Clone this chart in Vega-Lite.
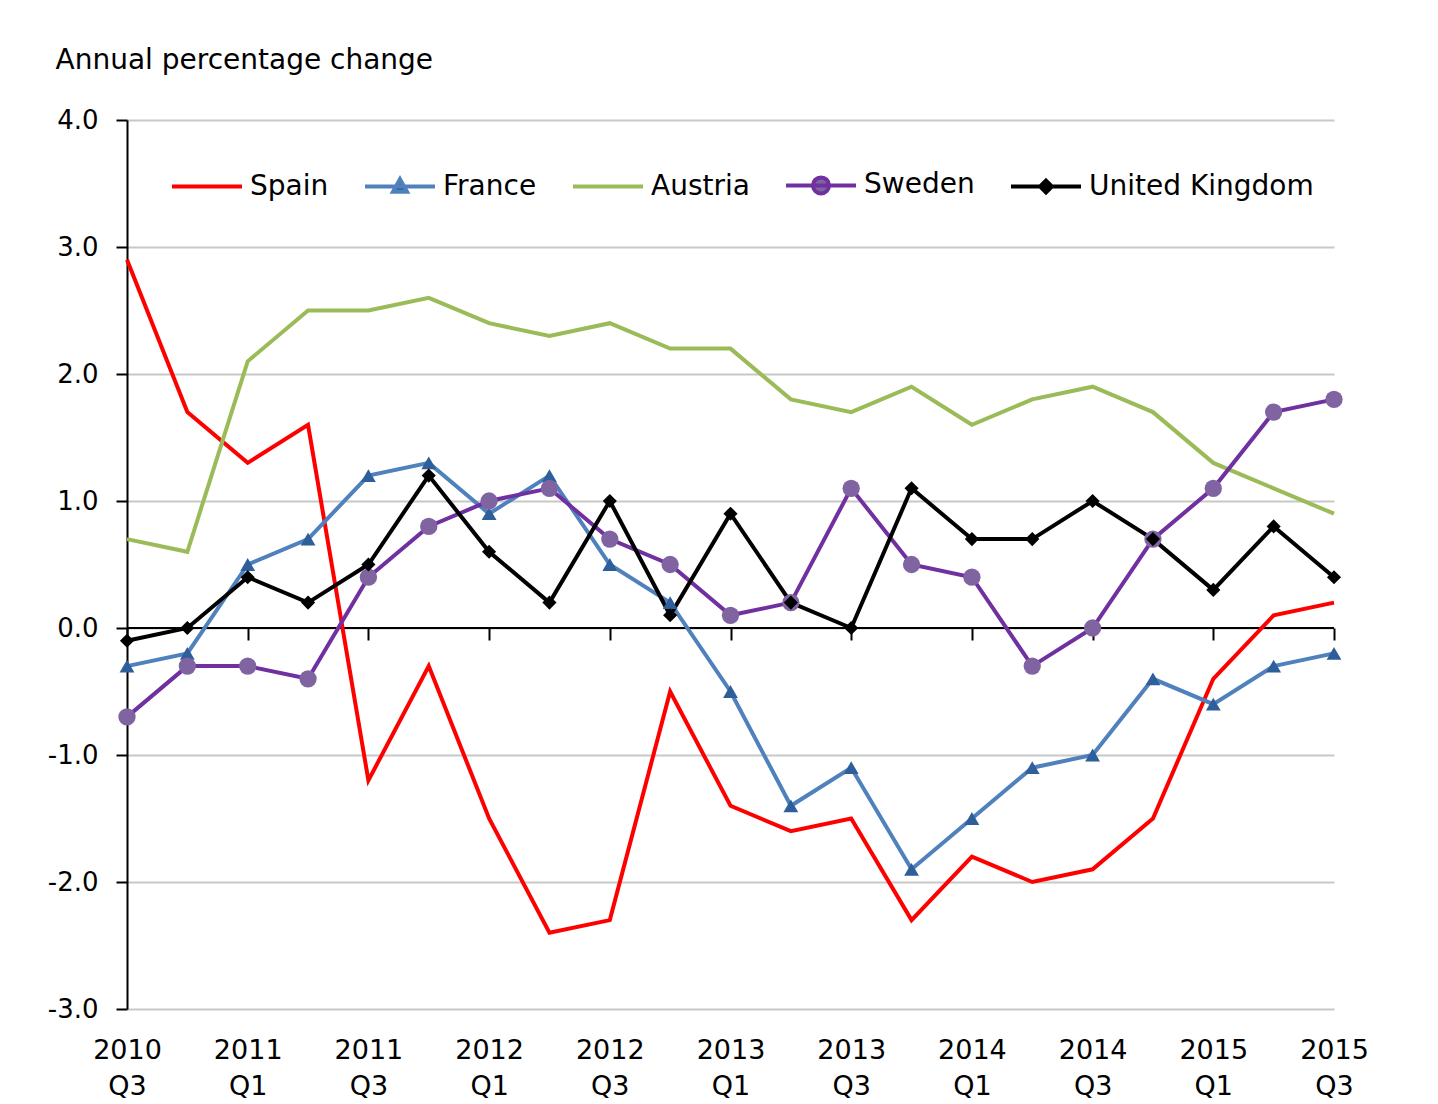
{
  "$schema": "https://vega.github.io/schema/vega-lite/v6.json",
  "width": 1207,
  "height": 889,
  "autosize": {"type": "none"},
  "padding": {"left": 127, "top": 120, "right": 104, "bottom": 95},
  "background": "#ffffff",
  "config": {
    "font": "DejaVu Sans",
    "view": {"stroke": null},
    "axis": {"labelColor": "#000000", "titleColor": "#000000", "labelFont": "DejaVu Sans", "titleFont": "DejaVu Sans"},
    "legend": {"labelFont": "DejaVu Sans", "labelColor": "#000000"}
  },
  "data": {
    "values": [
      {"quarter": "2010 Q3", "country": "Spain", "value": 2.9},
      {"quarter": "2010 Q4", "country": "Spain", "value": 1.7},
      {"quarter": "2011 Q1", "country": "Spain", "value": 1.3},
      {"quarter": "2011 Q2", "country": "Spain", "value": 1.6},
      {"quarter": "2011 Q3", "country": "Spain", "value": -1.2},
      {"quarter": "2011 Q4", "country": "Spain", "value": -0.3},
      {"quarter": "2012 Q1", "country": "Spain", "value": -1.5},
      {"quarter": "2012 Q2", "country": "Spain", "value": -2.4},
      {"quarter": "2012 Q3", "country": "Spain", "value": -2.3},
      {"quarter": "2012 Q4", "country": "Spain", "value": -0.5},
      {"quarter": "2013 Q1", "country": "Spain", "value": -1.4},
      {"quarter": "2013 Q2", "country": "Spain", "value": -1.6},
      {"quarter": "2013 Q3", "country": "Spain", "value": -1.5},
      {"quarter": "2013 Q4", "country": "Spain", "value": -2.3},
      {"quarter": "2014 Q1", "country": "Spain", "value": -1.8},
      {"quarter": "2014 Q2", "country": "Spain", "value": -2.0},
      {"quarter": "2014 Q3", "country": "Spain", "value": -1.9},
      {"quarter": "2014 Q4", "country": "Spain", "value": -1.5},
      {"quarter": "2015 Q1", "country": "Spain", "value": -0.4},
      {"quarter": "2015 Q2", "country": "Spain", "value": 0.1},
      {"quarter": "2015 Q3", "country": "Spain", "value": 0.2},
      {"quarter": "2010 Q3", "country": "France", "value": -0.3},
      {"quarter": "2010 Q4", "country": "France", "value": -0.2},
      {"quarter": "2011 Q1", "country": "France", "value": 0.5},
      {"quarter": "2011 Q2", "country": "France", "value": 0.7},
      {"quarter": "2011 Q3", "country": "France", "value": 1.2},
      {"quarter": "2011 Q4", "country": "France", "value": 1.3},
      {"quarter": "2012 Q1", "country": "France", "value": 0.9},
      {"quarter": "2012 Q2", "country": "France", "value": 1.2},
      {"quarter": "2012 Q3", "country": "France", "value": 0.5},
      {"quarter": "2012 Q4", "country": "France", "value": 0.2},
      {"quarter": "2013 Q1", "country": "France", "value": -0.5},
      {"quarter": "2013 Q2", "country": "France", "value": -1.4},
      {"quarter": "2013 Q3", "country": "France", "value": -1.1},
      {"quarter": "2013 Q4", "country": "France", "value": -1.9},
      {"quarter": "2014 Q1", "country": "France", "value": -1.5},
      {"quarter": "2014 Q2", "country": "France", "value": -1.1},
      {"quarter": "2014 Q3", "country": "France", "value": -1.0},
      {"quarter": "2014 Q4", "country": "France", "value": -0.4},
      {"quarter": "2015 Q1", "country": "France", "value": -0.6},
      {"quarter": "2015 Q2", "country": "France", "value": -0.3},
      {"quarter": "2015 Q3", "country": "France", "value": -0.2},
      {"quarter": "2010 Q3", "country": "Austria", "value": 0.7},
      {"quarter": "2010 Q4", "country": "Austria", "value": 0.6},
      {"quarter": "2011 Q1", "country": "Austria", "value": 2.1},
      {"quarter": "2011 Q2", "country": "Austria", "value": 2.5},
      {"quarter": "2011 Q3", "country": "Austria", "value": 2.5},
      {"quarter": "2011 Q4", "country": "Austria", "value": 2.6},
      {"quarter": "2012 Q1", "country": "Austria", "value": 2.4},
      {"quarter": "2012 Q2", "country": "Austria", "value": 2.3},
      {"quarter": "2012 Q3", "country": "Austria", "value": 2.4},
      {"quarter": "2012 Q4", "country": "Austria", "value": 2.2},
      {"quarter": "2013 Q1", "country": "Austria", "value": 2.2},
      {"quarter": "2013 Q2", "country": "Austria", "value": 1.8},
      {"quarter": "2013 Q3", "country": "Austria", "value": 1.7},
      {"quarter": "2013 Q4", "country": "Austria", "value": 1.9},
      {"quarter": "2014 Q1", "country": "Austria", "value": 1.6},
      {"quarter": "2014 Q2", "country": "Austria", "value": 1.8},
      {"quarter": "2014 Q3", "country": "Austria", "value": 1.9},
      {"quarter": "2014 Q4", "country": "Austria", "value": 1.7},
      {"quarter": "2015 Q1", "country": "Austria", "value": 1.3},
      {"quarter": "2015 Q2", "country": "Austria", "value": 1.1},
      {"quarter": "2015 Q3", "country": "Austria", "value": 0.9},
      {"quarter": "2010 Q3", "country": "Sweden", "value": -0.7},
      {"quarter": "2010 Q4", "country": "Sweden", "value": -0.3},
      {"quarter": "2011 Q1", "country": "Sweden", "value": -0.3},
      {"quarter": "2011 Q2", "country": "Sweden", "value": -0.4},
      {"quarter": "2011 Q3", "country": "Sweden", "value": 0.4},
      {"quarter": "2011 Q4", "country": "Sweden", "value": 0.8},
      {"quarter": "2012 Q1", "country": "Sweden", "value": 1.0},
      {"quarter": "2012 Q2", "country": "Sweden", "value": 1.1},
      {"quarter": "2012 Q3", "country": "Sweden", "value": 0.7},
      {"quarter": "2012 Q4", "country": "Sweden", "value": 0.5},
      {"quarter": "2013 Q1", "country": "Sweden", "value": 0.1},
      {"quarter": "2013 Q2", "country": "Sweden", "value": 0.2},
      {"quarter": "2013 Q3", "country": "Sweden", "value": 1.1},
      {"quarter": "2013 Q4", "country": "Sweden", "value": 0.5},
      {"quarter": "2014 Q1", "country": "Sweden", "value": 0.4},
      {"quarter": "2014 Q2", "country": "Sweden", "value": -0.3},
      {"quarter": "2014 Q3", "country": "Sweden", "value": 0.0},
      {"quarter": "2014 Q4", "country": "Sweden", "value": 0.7},
      {"quarter": "2015 Q1", "country": "Sweden", "value": 1.1},
      {"quarter": "2015 Q2", "country": "Sweden", "value": 1.7},
      {"quarter": "2015 Q3", "country": "Sweden", "value": 1.8},
      {"quarter": "2010 Q3", "country": "United Kingdom", "value": -0.1},
      {"quarter": "2010 Q4", "country": "United Kingdom", "value": 0.0},
      {"quarter": "2011 Q1", "country": "United Kingdom", "value": 0.4},
      {"quarter": "2011 Q2", "country": "United Kingdom", "value": 0.2},
      {"quarter": "2011 Q3", "country": "United Kingdom", "value": 0.5},
      {"quarter": "2011 Q4", "country": "United Kingdom", "value": 1.2},
      {"quarter": "2012 Q1", "country": "United Kingdom", "value": 0.6},
      {"quarter": "2012 Q2", "country": "United Kingdom", "value": 0.2},
      {"quarter": "2012 Q3", "country": "United Kingdom", "value": 1.0},
      {"quarter": "2012 Q4", "country": "United Kingdom", "value": 0.1},
      {"quarter": "2013 Q1", "country": "United Kingdom", "value": 0.9},
      {"quarter": "2013 Q2", "country": "United Kingdom", "value": 0.2},
      {"quarter": "2013 Q3", "country": "United Kingdom", "value": 0.0},
      {"quarter": "2013 Q4", "country": "United Kingdom", "value": 1.1},
      {"quarter": "2014 Q1", "country": "United Kingdom", "value": 0.7},
      {"quarter": "2014 Q2", "country": "United Kingdom", "value": 0.7},
      {"quarter": "2014 Q3", "country": "United Kingdom", "value": 1.0},
      {"quarter": "2014 Q4", "country": "United Kingdom", "value": 0.7},
      {"quarter": "2015 Q1", "country": "United Kingdom", "value": 0.3},
      {"quarter": "2015 Q2", "country": "United Kingdom", "value": 0.8},
      {"quarter": "2015 Q3", "country": "United Kingdom", "value": 0.4}
    ]
  },
  "layer": [
    {
      "mark": {"type": "rule", "color": "#000000", "strokeWidth": 2},
      "encoding": {
        "y": {"datum": 0, "type": "quantitative",
          "scale": {"domain": [-3, 4], "nice": false, "zero": false},
          "axis": {
            "values": [-3, -2, -1, 0, 1, 2, 3, 4],
            "labelExpr": "(datum.value < 0 ? '-' : '') + format(abs(datum.value), '.1f')",
            "labelFontSize": 26,
            "labelPadding": 18,
            "tickSize": 11,
            "tickWidth": 2,
            "tickColor": "#000000",
            "domainColor": "#000000",
            "domainWidth": 2,
            "grid": true,
            "gridColor": "#c8c8c8",
            "gridWidth": 2,
            "title": "Annual percentage change",
            "titleAngle": 0,
            "titleAlign": "left",
            "titleBaseline": "alphabetic",
            "titleX": -72,
            "titleY": -52,
            "titleFontSize": 28,
            "titleFontWeight": "normal"
          }
        }
      }
    },
    {
      "mark": {"type": "line", "strokeWidth": 4},
      "encoding": {
        "x": {
          "field": "quarter", "type": "ordinal", "sort": null,
          "scale": {"type": "point", "padding": 0},
          "axis": {
            "orient": "bottom",
            "values": ["2010 Q3", "2011 Q1", "2011 Q3", "2012 Q1", "2012 Q3", "2013 Q1", "2013 Q3", "2014 Q1", "2014 Q3", "2015 Q1", "2015 Q3"],
            "labelExpr": "split(datum.value, ' ')",
            "labelAngle": 0,
            "labelFontSize": 27,
            "labelLineHeight": 36,
            "labelPadding": 28,
            "labelOverlap": false,
            "labelBound": false,
            "ticks": false,
            "domain": false,
            "grid": false,
            "title": null
          }
        },
        "y": {"field": "value", "type": "quantitative"},
        "color": {
          "field": "country", "type": "nominal",
          "scale": {
            "domain": ["Spain", "France", "Austria", "Sweden", "United Kingdom"],
            "range": ["#ff0000", "#4f81bd", "#9bbb59", "#7030a0", "#000000"]
          },
          "legend": {
            "title": null,
            "orient": "none",
            "direction": "horizontal",
            "legendX": 43,
            "legendY": 28,
            "labelFontSize": 28,
            "labelOffset": 6,
            "labelLimit": 500,
            "columnPadding": 28,
            "symbolSize": 4900,
            "symbolStrokeWidth": 4,
            "symbolType": "M-1,0H1",
            "encode": {
              "symbols": {
                "update": {
                  "shape": {"signal": "datum.value === 'France' ? 'M-1,0H1M0,-0.21L0.2,0.15L-0.2,0.15Z' : datum.value === 'Sweden' ? 'M-1,0H1M0.23,0A0.23,0.23,0,1,1,-0.23,0A0.23,0.23,0,1,1,0.23,0Z' : datum.value === 'United Kingdom' ? 'M-1,0H1M0,-0.17L0.17,0L0,0.17L-0.17,0Z' : 'M-1,0H1'"},
                  "fill": {"signal": "datum.value === 'France' ? '#2f5f9a' : datum.value === 'Sweden' ? '#8064a2' : datum.value === 'United Kingdom' ? '#000000' : 'transparent'"},
                  "strokeWidth": {"value": 4}
                }
              }
            }
          }
        }
      }
    },
    {
      "transform": [{"filter": "datum.country === 'France'"}],
      "mark": {"type": "point", "shape": "triangle-up", "filled": true, "size": 220, "color": "#2f5f9a", "opacity": 1},
      "encoding": {
        "x": {
          "field": "quarter", "type": "ordinal", "sort": null,
          "axis": {
            "orient": "top",
            "offset": -508,
            "values": ["2010 Q3", "2011 Q1", "2011 Q3", "2012 Q1", "2012 Q3", "2013 Q1", "2013 Q3", "2014 Q1", "2014 Q3", "2015 Q1", "2015 Q3"],
            "labels": false,
            "ticks": true,
            "tickSize": -12,
            "tickWidth": 2,
            "tickColor": "#000000",
            "domain": false,
            "grid": false,
            "title": null
          }
        },
        "y": {"field": "value", "type": "quantitative"}
      }
    },
    {
      "transform": [{"filter": "datum.country === 'Sweden'"}],
      "mark": {"type": "point", "shape": "circle", "filled": true, "size": 300, "color": "#8064a2", "opacity": 1},
      "encoding": {
        "x": {"field": "quarter", "type": "ordinal", "sort": null, "axis": null},
        "y": {"field": "value", "type": "quantitative"}
      }
    },
    {
      "transform": [{"filter": "datum.country === 'United Kingdom'"}],
      "mark": {"type": "point", "shape": "diamond", "filled": true, "size": 200, "color": "#000000", "opacity": 1},
      "encoding": {
        "x": {"field": "quarter", "type": "ordinal", "sort": null, "axis": null},
        "y": {"field": "value", "type": "quantitative"}
      }
    }
  ]
}
